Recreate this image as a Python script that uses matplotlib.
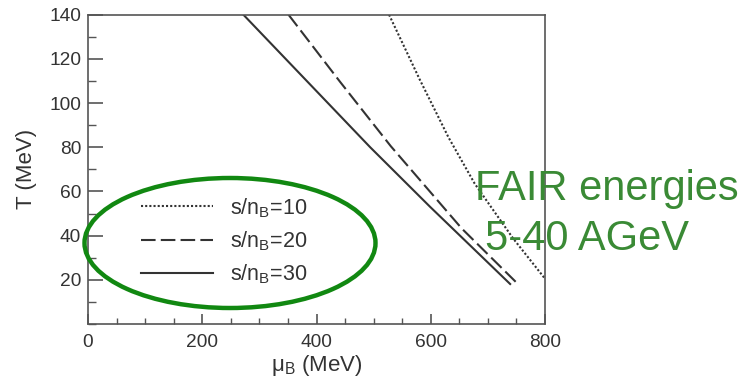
import matplotlib
matplotlib.use("Agg")
import matplotlib.pyplot as plt
from matplotlib.patches import Ellipse
from matplotlib.ticker import MultipleLocator

plt.rcParams['font.family'] = ['Liberation Sans', 'DejaVu Sans']

# data (mu_B in MeV, T in MeV)
mu_10 = [527, 581, 631, 677, 744, 800]
T_10 = [140, 110.5, 84.5, 63.5, 38.8, 20.5]

mu_20 = [351, 441, 530, 654, 753]
T_20 = [140, 109.7, 80.5, 43.3, 18]

mu_30 = [272, 383, 494, 599, 739]
T_30 = [140, 110, 80, 53, 18.1]

labels = ['s/n$_\\mathregular{B}$=10', 's/n$_\\mathregular{B}$=20', 's/n$_\\mathregular{B}$=30']
x_ticks = [0, 200, 400, 600, 800]
y_ticks = [20, 40, 60, 80, 100, 120, 140]

W, H = 745, 387
fig = plt.figure(figsize=(W / 100, H / 100), dpi=100)
ax = fig.add_axes([88 / W, 1 - 324 / H, (545 - 88) / W, (324 - 14.7) / H])

lc = '#333333'
ax.plot(mu_10, T_10, color=lc, lw=1.5, linestyle=(0, (1, 1)), label=labels[0])
ax.plot(mu_20, T_20, color=lc, lw=1.5, linestyle=(0, (7, 2.5)), label=labels[1])
ax.plot(mu_30, T_30, color=lc, lw=1.5, linestyle='-', label=labels[2])

ax.set_xlim(0, 800)
ax.set_ylim(0, 140)
ax.set_xticks(x_ticks)
ax.set_yticks(y_ticks)
ax.xaxis.set_minor_locator(MultipleLocator(50))
ax.yaxis.set_minor_locator(MultipleLocator(10))
for s in ax.spines.values():
    s.set_color('#555555')
    s.set_linewidth(1.2)
ax.tick_params(axis='both', which='both', direction='in', color='#555555',
               labelsize=13.8, labelcolor='#333333', top=False, right=False)
ax.tick_params(axis='y', which='major', length=11, width=1.2, pad=5)
ax.tick_params(axis='y', which='minor', length=6, width=1.0)
ax.tick_params(axis='x', which='major', length=7, width=1.2, pad=7)
ax.tick_params(axis='x', which='minor', length=4, width=1.0)

ax.set_xlabel('μ$_\\mathregular{B}$ (MeV)', fontsize=16, color='#333333', labelpad=2)
ax.set_ylabel('T (MeV)', fontsize=16, color='#333333', labelpad=9)

leg = ax.legend(loc='upper left', bbox_to_anchor=(141 / W, 1 - 196 / H),
                bbox_transform=fig.transFigure, frameon=False, fontsize=15.5,
                handlelength=3.35, handletextpad=0.8, labelspacing=0.45,
                borderpad=0, borderaxespad=0)
for t in leg.get_texts():
    t.set_color('#333333')

ell = Ellipse((230 / W, 1 - 243 / H), 291 / W, 130 / H, transform=fig.transFigure,
              fill=False, edgecolor='#118811', linewidth=3.2, clip_on=False)
fig.patches.append(ell)

green = '#3a8a35'
fig.text(475 / W, 1 - 200 / H, 'FAIR energies', fontsize=30, color=green,
         ha='left', va='baseline')
fig.text(485 / W, 1 - 250 / H, '5-40 AGeV', fontsize=30, color=green,
         ha='left', va='baseline')

fig.savefig('out.png', dpi=100)
